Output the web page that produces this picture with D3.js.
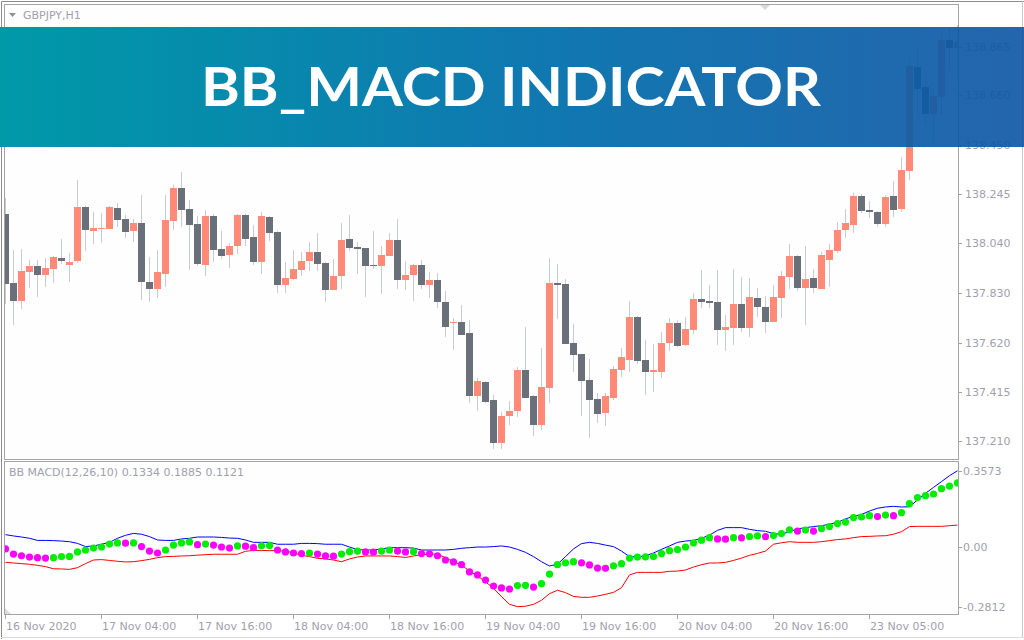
<!DOCTYPE html>
<html>
<head>
<meta charset="utf-8">
<script src="https://cdn.jsdelivr.net/npm/d3@7"></script>
<style>
  body { margin: 0; background: #fff; }
  svg { display: block; }
  .lbl { font-family: "DejaVu Sans", sans-serif; font-size: 11px; fill: #9fa0ad; }
</style>
</head>
<body>
<svg id="chart" width="1024" height="640"></svg>
<script>
// GBPJPY H1 candles
const open = [138.162,137.872,137.798,137.920,137.944,137.907,137.933,137.977,137.949,137.966,
  138.192,138.092,138.099,138.101,138.187,138.141,138.092,138.124,137.877,137.849,
  137.912,138.134,138.271,138.183,138.120,137.949,138.154,138.015,137.990,138.029,
  138.158,138.066,137.962,138.150,138.087,137.865,137.891,137.928,137.966,138.003,
  137.956,137.844,137.903,138.057,138.024,138.019,137.948,137.945,137.987,138.053,
  137.886,137.907,137.948,137.865,137.885,137.793,137.706,137.709,137.662,137.399,
  137.457,137.381,137.202,137.314,137.336,137.507,137.398,137.277,137.433,137.872,
  137.868,137.620,137.574,137.465,137.385,137.328,137.391,137.508,137.550,137.730,
  137.549,137.500,137.500,137.618,137.704,137.613,137.676,137.805,137.797,137.793,
  137.676,137.685,137.784,137.685,137.809,137.772,137.710,137.811,137.899,137.986,
  137.853,137.893,137.849,137.970,138.008,138.096,138.117,138.238,138.179,138.171,
  138.122,138.238,138.183,138.343,138.781,138.696,138.582,138.654,138.893,138.859];
const high = [138.229,138.011,138.015,137.969,137.969,137.977,137.986,138.057,137.998,138.305,
  138.195,138.171,138.166,138.196,138.208,138.158,138.141,138.242,137.982,138.011,
  138.242,138.284,138.339,138.221,138.154,138.179,138.162,138.091,138.040,138.162,
  138.160,138.116,138.171,138.152,138.091,137.962,138.011,138.003,138.045,138.082,
  137.961,137.973,138.126,138.158,138.045,138.021,138.091,138.028,138.082,138.141,
  137.965,137.950,137.969,137.919,137.914,137.839,137.725,137.780,137.717,137.473,
  137.459,137.402,137.331,137.377,137.520,137.689,137.400,137.599,137.977,137.952,
  137.889,137.700,137.576,137.553,137.410,137.410,137.524,137.599,137.797,137.734,
  137.633,137.616,137.667,137.725,137.717,137.730,137.830,137.927,137.864,137.927,
  137.738,137.931,137.898,137.893,137.851,137.818,137.864,137.923,138.036,137.988,
  138.028,137.931,138.003,138.036,138.129,138.183,138.250,138.246,138.217,138.173,
  138.242,138.301,138.402,138.817,138.864,138.733,138.691,138.927,138.943,138.956];
const low = [137.784,137.697,137.765,137.851,137.815,137.857,137.874,137.952,137.878,137.958,
  138.008,138.038,138.042,138.101,138.108,138.063,138.046,137.802,137.794,137.811,
  137.857,138.096,138.109,137.928,137.945,137.903,137.962,137.975,137.937,137.996,
  138.029,137.949,137.912,138.050,137.832,137.832,137.886,137.903,137.924,137.924,
  137.794,137.844,137.849,138.008,137.912,137.815,137.933,137.828,137.987,137.849,
  137.844,137.798,137.849,137.811,137.769,137.647,137.592,137.655,137.370,137.336,
  137.370,137.177,137.177,137.276,137.311,137.391,137.231,137.256,137.370,137.723,
  137.618,137.500,137.315,137.223,137.286,137.273,137.382,137.479,137.500,137.534,
  137.403,137.416,137.475,137.588,137.605,137.609,137.660,137.769,137.769,137.613,
  137.588,137.613,137.668,137.647,137.731,137.664,137.710,137.727,137.849,137.840,
  137.697,137.832,137.849,137.857,138.000,138.063,138.084,138.168,138.145,138.109,
  138.109,138.151,138.171,138.305,138.578,138.536,138.465,138.578,138.767,138.738];
const close = [137.870,137.798,137.923,137.944,137.907,137.935,137.982,137.966,137.961,138.192,
  138.096,138.103,138.103,138.192,138.137,138.088,138.124,137.878,137.849,137.919,
  138.137,138.271,138.179,138.117,137.954,138.154,138.012,137.987,138.028,138.158,
  138.059,137.962,138.154,138.084,137.865,137.893,137.931,137.965,138.003,137.954,
  137.844,137.902,138.053,138.021,138.017,137.945,137.945,137.990,138.053,137.886,
  137.906,137.948,137.865,137.885,137.794,137.689,137.709,137.655,137.399,137.461,
  137.374,137.202,137.314,137.335,137.507,137.391,137.277,137.436,137.872,137.865,
  137.618,137.570,137.462,137.382,137.324,137.398,137.511,137.562,137.730,137.546,
  137.500,137.507,137.620,137.704,137.609,137.679,137.805,137.794,137.790,137.676,
  137.688,137.784,137.685,137.814,137.773,137.710,137.814,137.902,137.986,137.853,
  137.889,137.849,137.990,138.011,138.095,138.124,138.238,138.176,138.172,138.122,
  138.234,138.180,138.347,138.784,138.687,138.582,138.658,138.893,138.859,138.885];

// BB MACD indicator: macd dots, upper band (blue), lower band (red)
const macd = [-0.010,-0.034,-0.042,-0.048,-0.051,-0.053,-0.051,-0.046,-0.045,-0.024,
  -0.015,-0.006,-0.001,0.013,0.018,0.017,0.018,0.001,-0.020,-0.029,
  -0.015,0.008,0.018,0.023,0.010,0.013,0.008,-0.001,-0.006,0.004,
  0.003,-0.004,0.005,0.006,-0.015,-0.024,-0.029,-0.032,-0.029,-0.034,
  -0.043,-0.044,-0.034,-0.023,-0.020,-0.024,-0.025,-0.020,-0.015,-0.020,
  -0.024,-0.023,-0.032,-0.033,-0.042,-0.062,-0.071,-0.084,-0.118,-0.132,
  -0.156,-0.184,-0.193,-0.198,-0.182,-0.181,-0.189,-0.173,-0.128,-0.084,
  -0.075,-0.070,-0.075,-0.085,-0.100,-0.101,-0.089,-0.079,-0.053,-0.048,
  -0.047,-0.046,-0.032,-0.018,-0.013,-0.001,0.018,0.031,0.043,0.037,
  0.036,0.043,0.042,0.048,0.052,0.048,0.053,0.062,0.080,0.074,
  0.079,0.074,0.085,0.095,0.109,0.116,0.137,0.140,0.146,0.142,
  0.149,0.146,0.160,0.203,0.231,0.240,0.248,0.273,0.285,0.300];
const dotSide = "mmmmmmgggggggggmgmmmggggmgmmmgmmggmmmmgmmmgggmmggmmgmmmmmmmmmmmmggmgggggmmmmgggggggggggggmmgmggmgggmgmgggggggmgmgggggggg";
const upper = [0.057,0.051,0.046,0.040,0.030,0.030,0.029,0.027,0.024,0.016,
  0.001,0.004,0.012,0.021,0.040,0.054,0.063,0.059,0.048,0.032,
  0.030,0.030,0.037,0.040,0.046,0.046,0.046,0.044,0.041,0.040,
  0.032,0.021,0.021,0.021,0.012,0.012,0.012,0.016,0.016,0.015,
  0.012,0.012,0.012,-0.001,-0.013,-0.015,-0.015,-0.010,-0.004,-0.004,
  -0.004,-0.006,-0.015,-0.015,-0.015,-0.015,-0.012,-0.007,-0.004,-0.001,
  -0.001,0.001,0.004,-0.001,-0.012,-0.026,-0.046,-0.070,-0.090,-0.082,
  -0.046,-0.010,0.015,0.021,0.016,0.008,0.001,-0.020,-0.046,-0.048,
  -0.042,-0.029,-0.012,0.004,0.021,0.027,0.030,0.040,0.055,0.077,
  0.090,0.090,0.090,0.082,0.076,0.073,0.062,0.059,0.071,0.084,
  0.090,0.095,0.099,0.106,0.115,0.131,0.143,0.152,0.168,0.181,
  0.187,0.190,0.187,0.188,0.220,0.251,0.279,0.306,0.334,0.357];
const lower = [-0.073,-0.076,-0.079,-0.082,-0.087,-0.093,-0.103,-0.104,-0.106,-0.098,
  -0.079,-0.062,-0.060,-0.064,-0.068,-0.071,-0.070,-0.065,-0.059,-0.051,
  -0.046,-0.045,-0.043,-0.042,-0.039,-0.037,-0.035,-0.035,-0.035,-0.035,
  -0.021,-0.017,-0.017,-0.018,-0.018,-0.021,-0.028,-0.040,-0.046,-0.054,
  -0.057,-0.062,-0.070,-0.057,-0.048,-0.043,-0.043,-0.043,-0.043,-0.046,
  -0.050,-0.043,-0.037,-0.034,-0.035,-0.051,-0.070,-0.085,-0.114,-0.137,
  -0.164,-0.195,-0.234,-0.270,-0.281,-0.279,-0.270,-0.251,-0.220,-0.204,
  -0.215,-0.233,-0.237,-0.237,-0.231,-0.223,-0.214,-0.192,-0.132,-0.120,
  -0.120,-0.120,-0.120,-0.115,-0.114,-0.109,-0.095,-0.084,-0.076,-0.076,
  -0.073,-0.064,-0.053,-0.040,-0.031,-0.020,0.012,0.019,0.024,0.021,
  0.021,0.021,0.024,0.029,0.034,0.037,0.043,0.048,0.049,0.051,
  0.052,0.059,0.071,0.095,0.096,0.096,0.096,0.096,0.099,0.102];

// axis labels
const priceTicks = [137.210, 137.415, 137.620, 137.830, 138.040, 138.245, 138.450, 138.660, 138.865];
const subTicks = [0.3573, 0, -0.2812];
const subTickLabels = ['0.3573', '0.00', '-0.2812'];
const timeTickIdx = [0, 12, 24, 36, 48, 60, 72, 84, 96, 108];
const timeLabels = ['16 Nov 2020', '17 Nov 04:00', '17 Nov 16:00', '18 Nov 04:00', '18 Nov 16:00',
  '19 Nov 04:00', '19 Nov 16:00', '20 Nov 04:00', '20 Nov 16:00', '23 Nov 05:00'];

const svg = d3.select('#chart');
const plotLeft = 4, plotRight = 958;
const mainTop = 4, mainBottom = 459;
const subTop = 461, subBottom = 614;
const frameColor = '#a3a3a8';

const n = close.length;
const x = d3.scaleLinear().domain([0, n - 1]).range([5.5, 957.5]);
const y = d3.scaleLinear().domain([137.21, 138.865]).range([440.7, 46.6]);
const ySub = d3.scaleLinear().domain([-0.2812, 0.3573]).range([606.7, 470.7]);

svg.append('rect').attr('width', 1024).attr('height', 640).attr('fill', '#fff');

const defs = svg.append('defs');
defs.append('clipPath').attr('id', 'clipMain').append('rect')
  .attr('x', plotLeft + 1).attr('y', mainTop + 1)
  .attr('width', plotRight - plotLeft - 1).attr('height', mainBottom - mainTop - 1);
defs.append('clipPath').attr('id', 'clipSub').append('rect')
  .attr('x', plotLeft + 1).attr('y', subTop + 1)
  .attr('width', plotRight - plotLeft - 1).attr('height', subBottom - subTop - 1);

// window frame
svg.append('path').attr('d', 'M1.5,639 V1.5 H1024').attr('fill', 'none').attr('stroke', '#8c8c8c');
svg.append('line').attr('x1', 1022.5).attr('x2', 1022.5).attr('y1', 1).attr('y2', 637)
  .attr('stroke', '#c8c8cc');
svg.append('line').attr('x1', 1).attr('x2', 1024).attr('y1', 637.5).attr('y2', 637.5)
  .attr('stroke', '#dcdcdc');

// panel borders
svg.append('rect').attr('x', plotLeft + 0.5).attr('y', mainTop + 0.5)
  .attr('width', plotRight - plotLeft).attr('height', mainBottom - mainTop)
  .attr('fill', '#fefeff').attr('stroke', frameColor);
svg.append('rect').attr('x', plotLeft + 0.5).attr('y', subTop + 0.5)
  .attr('width', plotRight - plotLeft).attr('height', subBottom - subTop)
  .attr('fill', '#fefeff').attr('stroke', frameColor);

// symbol caption
svg.append('path').attr('d', 'M9,13 L16,13 L12.5,17 Z').attr('fill', '#8e8e9a');
svg.append('text').attr('class', 'lbl').attr('x', 23).attr('y', 19).text('GBPJPY,H1');
svg.append('path').attr('d', 'M760,5 L770,5 L765,10 Z').attr('fill', '#d6dae1');

// candles
const candles = svg.append('g').attr('clip-path', 'url(#clipMain)');
const idx = d3.range(n);
candles.selectAll('.wick').data(idx).enter().append('line')
  .attr('class', 'wick')
  .attr('x1', i => x(i)).attr('x2', i => x(i))
  .attr('y1', i => Math.round(y(high[i])))
  .attr('y2', i => Math.round(y(low[i])))
  .attr('stroke', '#c7cbd5');
candles.selectAll('.body').data(idx).enter().append('rect')
  .attr('class', 'body')
  .attr('x', i => x(i) - 3.5)
  .attr('width', 7)
  .attr('y', i => Math.round(y(Math.max(open[i], close[i]))))
  .attr('height', i => Math.max(1, Math.round(Math.abs(y(open[i]) - y(close[i])))))
  .attr('fill', i => close[i] >= open[i] ? '#ff8a78' : '#69707a');

// price axis
const pAxis = svg.append('g');
priceTicks.forEach(v => {
  const py = Math.round(y(v)) + 0.5;
  pAxis.append('line').attr('x1', plotRight).attr('x2', plotRight + 4)
    .attr('y1', py).attr('y2', py).attr('stroke', frameColor);
  pAxis.append('text').attr('class', 'lbl').attr('x', 965).attr('y', py)
    .attr('dy', '0.36em').text(d3.format('.3f')(v));
});

// indicator panel
svg.append('text').attr('class', 'lbl').attr('x', 9).attr('y', 476)
  .text('BB MACD(12,26,10) 0.1334 0.1885 0.1121');
svg.append('path').attr('d', 'M5,608 L5,614 L11,614 Z').attr('fill', '#dcdce0');

const sub = svg.append('g').attr('clip-path', 'url(#clipSub)');
const line = d3.line().x((d, i) => x(i)).y(d => ySub(d));
sub.append('path').datum(upper).attr('d', line)
  .attr('fill', 'none').attr('stroke', '#0000ff').attr('stroke-width', 1);
sub.append('path').datum(lower).attr('d', line)
  .attr('fill', 'none').attr('stroke', '#ff0000').attr('stroke-width', 1);
sub.selectAll('.dot').data(macd).enter().append('circle')
  .attr('class', 'dot')
  .attr('cx', (d, i) => x(i))
  .attr('cy', d => ySub(d))
  .attr('r', 3.6)
  .attr('fill', (d, i) => dotSide[i] === 'g' ? '#00ee00' : '#ff00ff');

const sAxis = svg.append('g');
subTicks.forEach((v, k) => {
  const py = Math.round(ySub(v)) + 0.5;
  sAxis.append('line').attr('x1', plotRight).attr('x2', plotRight + 4)
    .attr('y1', py).attr('y2', py).attr('stroke', frameColor);
  sAxis.append('text').attr('class', 'lbl').attr('x', 963).attr('y', py)
    .attr('dy', '0.36em').text(subTickLabels[k]);
});

// time axis
const tAxis = svg.append('g');
timeTickIdx.forEach((ti, k) => {
  tAxis.append('line').attr('x1', x(ti)).attr('x2', x(ti))
    .attr('y1', subBottom).attr('y2', subBottom + 5).attr('stroke', frameColor);
  tAxis.append('text').attr('class', 'lbl').attr('x', Math.floor(x(ti)) + 1).attr('y', 630)
    .text(timeLabels[k]);
});

// title banner (slightly see-through on the right, like the original)
const grad = defs.append('linearGradient').attr('id', 'bannerGrad');
grad.append('stop').attr('offset', '0%').attr('stop-color', '#0099a8').attr('stop-opacity', 1);
grad.append('stop').attr('offset', '50%').attr('stop-color', '#0574ad').attr('stop-opacity', 0.96);
grad.append('stop').attr('offset', '100%').attr('stop-color', '#0c54a4').attr('stop-opacity', 0.9);
svg.append('rect').attr('x', 0).attr('y', 27).attr('width', 1024).attr('height', 120)
  .attr('fill', 'url(#bannerGrad)');
svg.append('text')
  .attr('x', 511).attr('y', 106)
  .attr('text-anchor', 'middle')
  .attr('textLength', 620).attr('lengthAdjust', 'spacingAndGlyphs')
  .attr('font-family', 'Lato, "Open Sans", sans-serif')
  .attr('font-weight', 700)
  .attr('font-size', 54)
  .attr('fill', '#fff')
  .text('BB_MACD INDICATOR');
</script>
</body>
</html>
